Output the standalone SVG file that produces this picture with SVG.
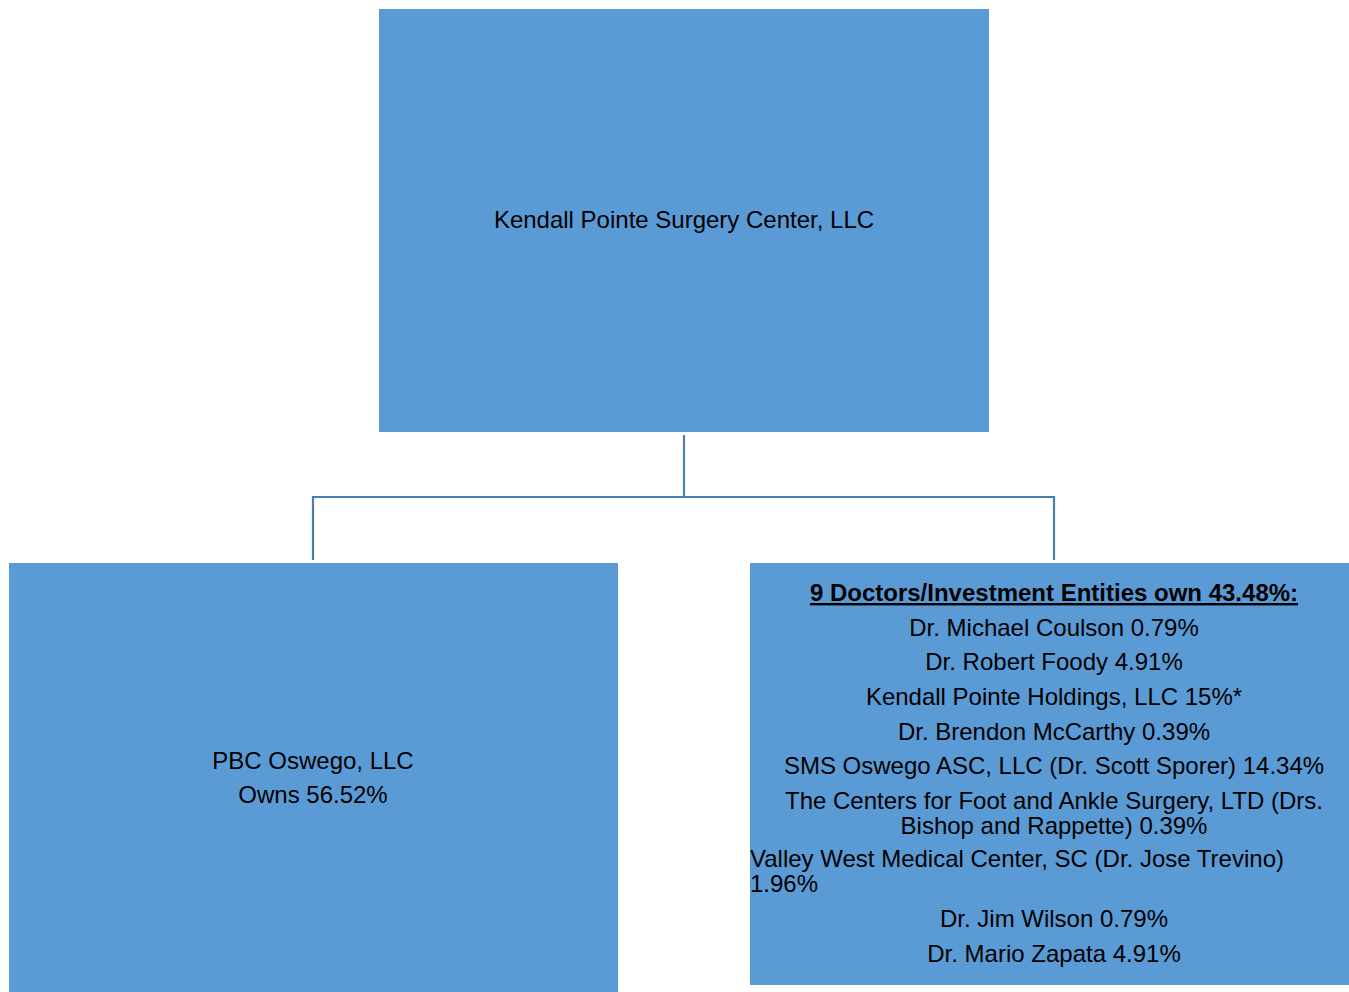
<svg xmlns="http://www.w3.org/2000/svg" width="1349" height="992" viewBox="0 0 1349 992">
<style>
.box{fill:#5b9bd5;}
.t{font-family:"Liberation Sans",Arial,sans-serif;font-size:24px;fill:#000;text-anchor:middle;}
.b{font-weight:bold;text-decoration:underline;}
.l{text-anchor:start;}
.c{fill:none;stroke:#4a7eac;stroke-width:2.2;}
</style>
<rect width="1349" height="992" fill="#fff"/>
<g id="connectors">
<path class="c" d="M684 435 V497 M313 560 V497 H1054 V560"/>
</g>
<g id="node-top">
<rect class="box" x="379" y="9" width="610" height="423"/>
<text class="t" x="684" y="228">Kendall Pointe Surgery Center, LLC</text>
</g>
<g id="node-pbc">
<rect class="box" x="9" y="563" width="609" height="429"/>
<text class="t" x="313" y="769">PBC Oswego, LLC</text>
<text class="t" x="313" y="803">Owns 56.52%</text>
</g>
<g id="node-doctors">
<rect class="box" x="750" y="563" width="599" height="422"/>
<text class="t b" x="1054" y="601">9 Doctors/Investment Entities own 43.48%:</text>
<text class="t" x="1054" y="636">Dr. Michael Coulson 0.79%</text>
<text class="t" x="1054" y="670">Dr. Robert Foody 4.91%</text>
<text class="t" x="1054" y="705">Kendall Pointe Holdings, LLC 15%*</text>
<text class="t" x="1054" y="740">Dr. Brendon McCarthy 0.39%</text>
<text class="t" x="1054" y="774">SMS Oswego ASC, LLC (Dr. Scott Sporer) 14.34%</text>
<text class="t" x="1054" y="809">The Centers for Foot and Ankle Surgery, LTD (Drs.</text>
<text class="t" x="1054" y="834">Bishop and Rappette) 0.39%</text>
<text class="t l" x="750" y="867">Valley West Medical Center, SC (Dr. Jose Trevino)</text>
<text class="t l" x="750" y="892">1.96%</text>
<text class="t" x="1054" y="927">Dr. Jim Wilson 0.79%</text>
<text class="t" x="1054" y="962">Dr. Mario Zapata 4.91%</text>
</g>
</svg>
